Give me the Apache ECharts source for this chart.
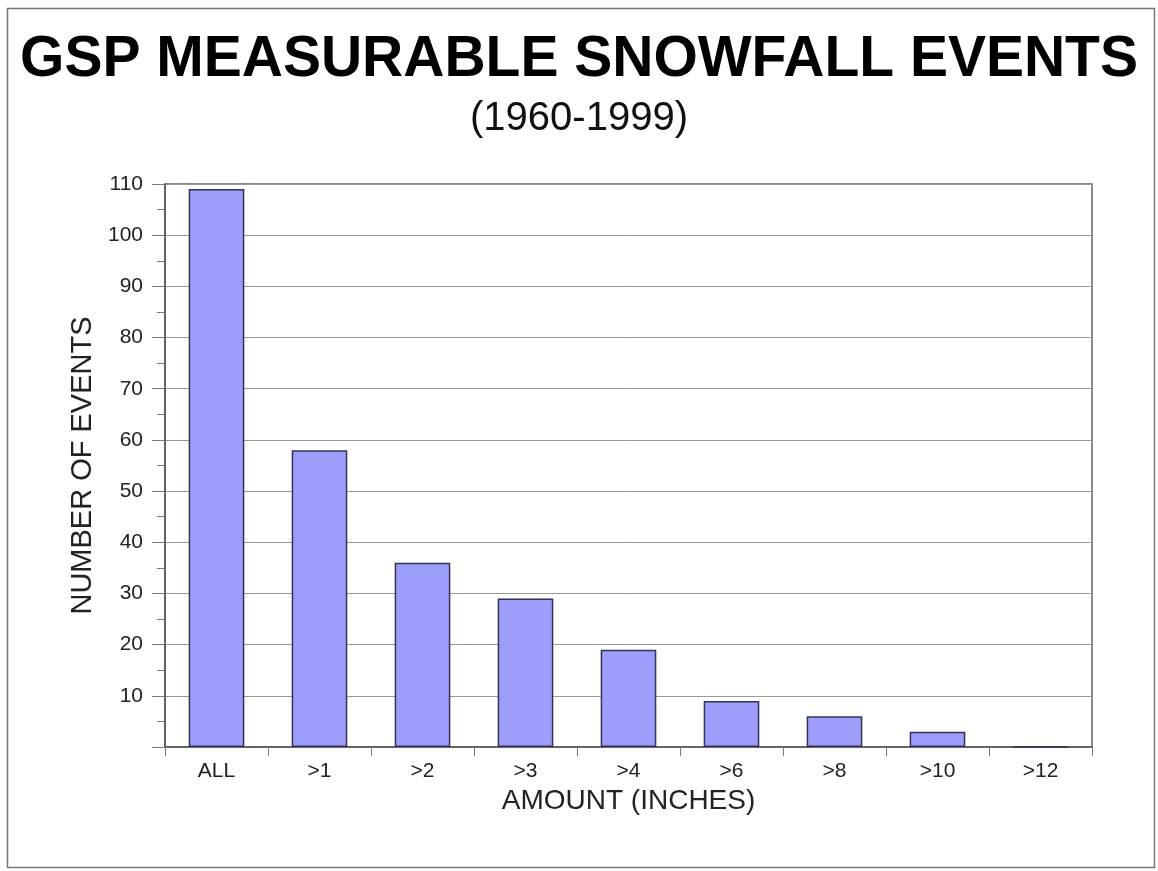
<!DOCTYPE html>
<html><head><meta charset="utf-8">
<script src="https://cdn.jsdelivr.net/npm/echarts@6/dist/echarts.min.js"></script>
<style>html,body{margin:0;padding:0;background:#fff}#c{width:1158px;height:871px}</style>
</head><body><div id="c"></div>
<script>
const categories = ['ALL', '>1', '>2', '>3', '>4', '>6', '>8', '>10', '>12'];
const events = [109, 58, 36, 29, 19, 9, 6, 3, 0];
const yTicks = [10, 20, 30, 40, 50, 60, 70, 80, 90, 100, 110];

const chart = echarts.init(document.getElementById('c'));
chart.setOption({
  animation: false,
  backgroundColor: '#fff',
  title: [{
    text: 'GSP MEASURABLE SNOWFALL EVENTS',
    left: 'center', top: 27,
    textStyle: { fontFamily: 'Liberation Sans, Arial', fontWeight: 'bold', fontSize: 57, color: '#000' }
  }, {
    text: '(1960-1999)',
    left: 'center', top: 94,
    textStyle: { fontFamily: 'Liberation Sans, Arial', fontWeight: 'normal', fontSize: 40, color: '#111' }
  }],
  graphic: [{
    type: 'rect', shape: { x: 7.5, y: 8.5, width: 1147, height: 859 },
    style: { fill: 'none', stroke: '#777', lineWidth: 1.5 }, silent: true
  }],
  grid: { left: 165, right: 66, top: 184, bottom: 124, show: true, borderColor: '#666', borderWidth: 1.5, backgroundColor: 'transparent' },
  xAxis: {
    type: 'category', data: categories,
    name: 'AMOUNT (INCHES)', nameLocation: 'middle', nameGap: 36,
    nameTextStyle: { fontFamily: 'Liberation Sans, Arial', fontSize: 28, color: '#222' },
    axisLine: { lineStyle: { color: '#555', width: 1.5 } },
    axisTick: { show: true, length: 9, lineStyle: { color: '#777' } },
    axisLabel: { fontFamily: 'Liberation Sans, Arial', fontSize: 21, color: '#222', margin: 14 }
  },
  yAxis: {
    type: 'value', min: 0, max: 110, interval: 10,
    name: 'NUMBER OF EVENTS', nameLocation: 'middle', nameGap: 64, nameRotate: 90,
    nameTextStyle: { fontFamily: 'Liberation Sans, Arial', fontSize: 29, color: '#222' },
    axisLine: { show: true, lineStyle: { color: '#555', width: 1.5 } },
    axisTick: { show: true, length: 13, lineStyle: { color: '#777' } },
    minorTick: { show: true, splitNumber: 2, length: 8, lineStyle: { color: '#777' } },
    splitLine: { show: true, lineStyle: { color: '#999', width: 1 } },
    axisLabel: {
      fontFamily: 'Liberation Sans, Arial', fontSize: 21, color: '#222', margin: 22,
      formatter: v => yTicks.includes(v) ? String(v) : ''
    }
  },
  series: [{
    type: 'bar', data: events, barWidth: '54%',
    itemStyle: { color: '#9d9dfb', borderColor: '#33335a', borderWidth: 1.5 }
  }]
});
</script></body></html>
